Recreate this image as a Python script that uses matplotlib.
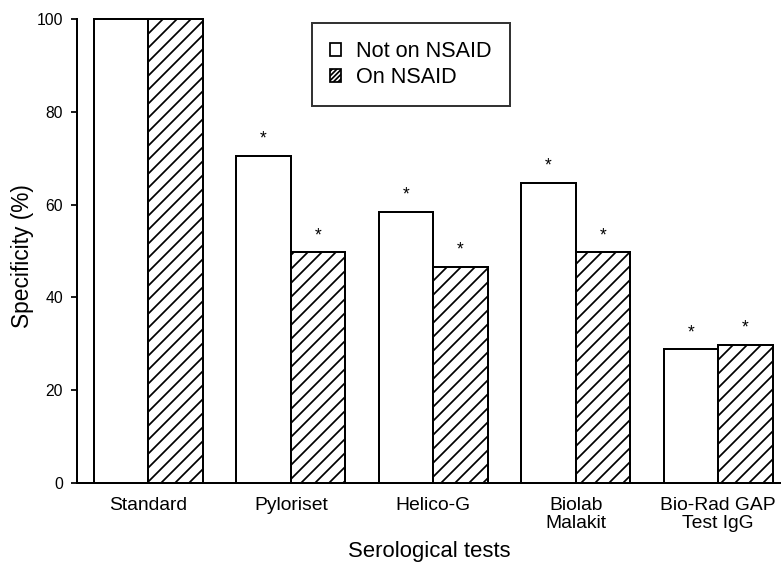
import matplotlib
matplotlib.use("Agg")
import matplotlib.pyplot as plt
from matplotlib.patches import Patch
import numpy as np

# data
CATEGORIES = ["Standard", "Pyloriset", "Helico-G", "Biolab\nMalakit", "Bio-Rad GAP\nTest IgG"]
NOT_ON_NSAID = [100, 70.5, 58.5, 64.7, 28.8]
ON_NSAID = [100, 49.7, 46.6, 49.7, 29.8]
STAR_NOT = [False, True, True, True, True]
STAR_ON = [False, True, True, True, True]
YTICKS = [0, 20, 40, 60, 80, 100]

DPI = 84
plt.rcParams["font.family"] = ["Liberation Sans", "DejaVu Sans"]
plt.rcParams["hatch.linewidth"] = 1.5
plt.rcParams["hatch.color"] = "black"

fig = plt.figure(figsize=(781 / DPI, 562 / DPI), dpi=DPI)
ax = fig.add_axes([77 / 781, 1 - 483 / 562, 704 / 781, 464 / 562])

x = np.arange(len(CATEGORIES))
w = 0.383
lw = 1.7
ax.bar(x - w / 2, NOT_ON_NSAID, w, facecolor="white", edgecolor="black", linewidth=lw,
       clip_on=False, zorder=3)
ax.bar(x + w / 2, ON_NSAID, w, facecolor="white", edgecolor="black", linewidth=lw,
       hatch="//", clip_on=False, zorder=3)

for xi, v, s in zip(x - w / 2, NOT_ON_NSAID, STAR_NOT):
    if s:
        ax.text(xi, v + 1.8, "*", ha="center", va="bottom", fontsize=15)
for xi, v, s in zip(x + w / 2, ON_NSAID, STAR_ON):
    if s:
        ax.text(xi, v + 1.8, "*", ha="center", va="bottom", fontsize=15)

ax.set_xlim(-0.502, 4.442)
ax.set_ylim(0, 100)
ax.set_yticks(YTICKS)
ax.set_xticks(x)
ax.set_xticklabels(CATEGORIES, fontsize=16.5, linespacing=1.05)
ax.tick_params(axis="x", length=0, pad=12)
ax.tick_params(axis="y", length=5, width=1.5, direction="out", labelsize=13.5, pad=7)
for side in ("top", "right"):
    ax.spines[side].set_visible(False)
for side in ("left", "bottom"):
    ax.spines[side].set_linewidth(1.7)

ax.set_ylabel("Specificity (%)", fontsize=19.5)
ax.yaxis.set_label_coords(-(77 - 34) / 704, 0.49)
ax.set_xlabel("Serological tests", fontsize=19)
ax.xaxis.set_label_coords(0.5, -(557 - 483) / 464)
ax.xaxis.label.set_va("baseline")

handles = [Patch(facecolor="white", edgecolor="black", linewidth=1.5, label="Not on NSAID"),
           Patch(facecolor="white", edgecolor="black", linewidth=1.5, hatch="//////", label="On NSAID")]
leg = ax.legend(handles=handles, loc="upper left", bbox_to_anchor=((312 - 77) / 704, (483 - 23) / 464),
                borderaxespad=0, fontsize=18.5, fancybox=False, handlelength=0.5,
                handleheight=0.55, handletextpad=0.7, borderpad=0.85, labelspacing=0.2)
leg.get_frame().set_edgecolor("black")
leg.get_frame().set_linewidth(1.7)

fig.savefig("out.png", dpi=DPI)
